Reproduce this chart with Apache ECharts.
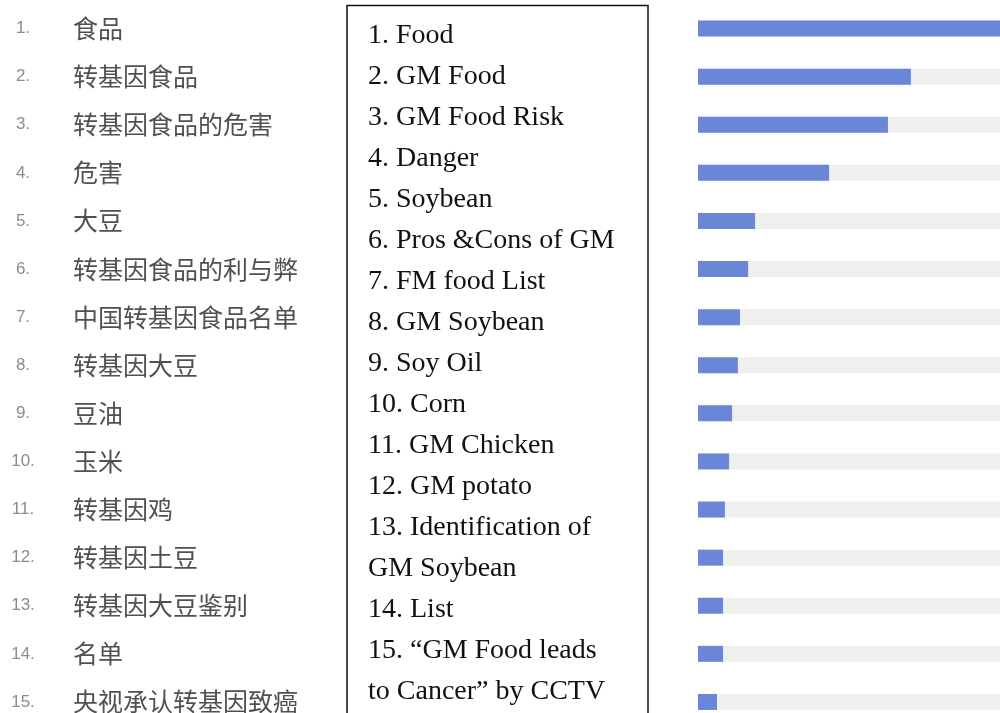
<!DOCTYPE html>
<html>
<head>
<meta charset="utf-8">
<script src="https://cdn.jsdelivr.net/npm/echarts@6/dist/echarts.min.js"></script>
<style>
  html, body { margin: 0; padding: 0; background: #fff; }
  #chart { width: 1000px; height: 713px; }
</style>
</head>
<body>
<div id="chart"></div>
<script>
// Search terms (Chinese) as ranked
const terms = ['食品', '转基因食品', '转基因食品的危害', '危害', '大豆',
    '转基因食品的利与弊', '中国转基因食品名单', '转基因大豆', '豆油', '玉米',
    '转基因鸡', '转基因土豆', '转基因大豆鉴别', '名单', '央视承认转基因致癌'];

// Relative search volume (top term = 100)
const volumes = [100, 70.5, 62.9, 43.4, 18.9, 16.6, 13.9, 13.2, 11.3, 10.3, 8.9, 8.3, 8.3, 8.3, 6.3];

// English translations shown in the boxed column
const translations = ['1. Food', '2. GM Food', '3. GM Food Risk', '4. Danger', '5. Soybean',
    '6. Pros &Cons of GM', '7. FM food List', '8. GM Soybean', '9. Soy Oil', '10. Corn',
    '11. GM Chicken', '12. GM potato', '13. Identification of', 'GM Soybean', '14. List',
    '15. \u201cGM Food leads', 'to Cancer\u201d by CCTV'];

let chart = echarts.init(document.getElementById('chart'));

chart.setOption({
    animation: false,
    // rows run past the bottom edge, the last one is cut by the frame
    grid: { left: 698, top: 4.5, width: 302, height: 721.5, outerBoundsMode: 'none', containLabel: false },
    xAxis: { type: 'value', min: 0, max: 100, show: false },
    yAxis: {
        type: 'category',
        inverse: true,
        data: terms,
        axisLine: { show: false },
        axisTick: { show: false },
        splitLine: { show: false },
        axisLabel: {
            align: 'left',
            margin: 688,
            formatter: (value, idx) => '{n|' + (idx + 1) + '.}{t|' + value + '}',
            rich: {
                n: { width: 26, align: 'right', fontSize: 17, color: '#8c8c8c', fontFamily: 'Liberation Sans' },
                t: { fontSize: 25, color: '#505050', fontFamily: 'Noto Sans CJK SC', padding: [0, 0, 0, 37] }
            }
        }
    },
    series: [{
        type: 'bar',
        data: volumes,
        barWidth: 16,
        itemStyle: { color: '#6a86d6' },
        showBackground: true,
        backgroundStyle: { color: '#efefef' }
    }],
    graphic: [
        {
            type: 'rect',
            shape: { x: 347, y: 5.5, width: 301, height: 720 },
            style: { fill: 'none', stroke: '#111', lineWidth: 1.5 }
        },
        {
            type: 'text',
            x: 368,
            y: 15.5,
            style: {
                text: translations.join('\n'),
                font: '28px "Liberation Serif"',
                fill: '#111',
                lineHeight: 41
            }
        }
    ]
});
</script>
</body>
</html>
